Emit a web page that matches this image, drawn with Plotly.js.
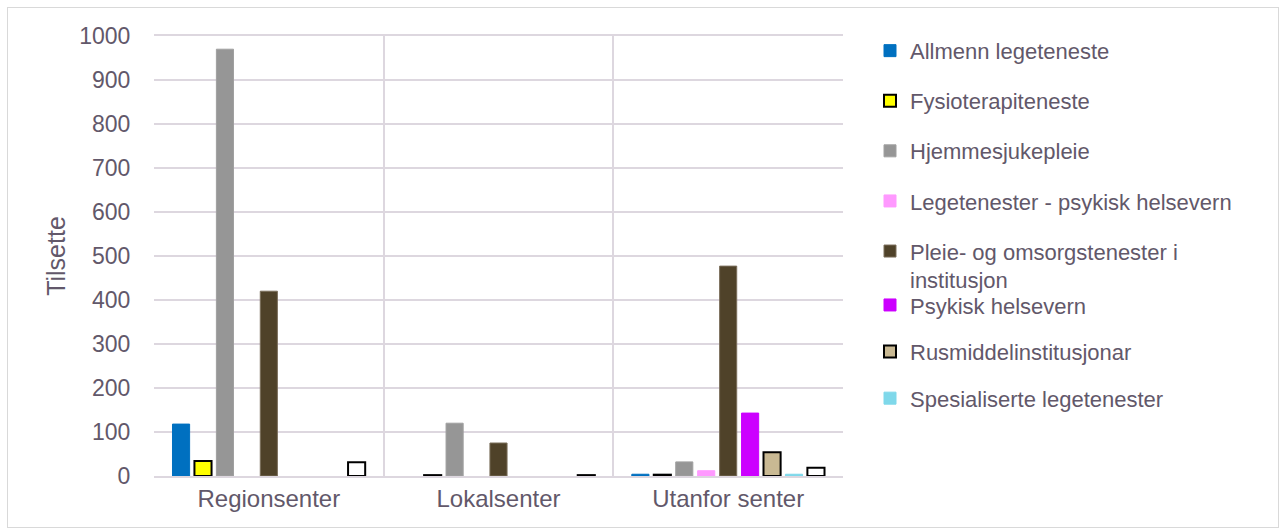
<!DOCTYPE html>
<html>
<head>
<meta charset="utf-8">
<script src="https://cdn.plot.ly/plotly-3.0.1.min.js"></script>
<style>
html,body{margin:0;padding:0;background:#fff;}
#chart{width:1283px;height:530px;}
#frame{position:absolute;left:7px;top:7px;width:1270px;height:519px;border:1px solid #d9d9d9;pointer-events:none;}
</style>
</head>
<body>
<div id="chart"></div>
<div id="frame"></div>
<script>
const categories = ["Regionsenter", "Lokalsenter", "Utanfor senter"];
const seriesNames = [
  "Allmenn legeteneste",
  "Fysioterapiteneste",
  "Hjemmesjukepleie",
  "Legetenester - psykisk helsevern",
  "Pleie- og omsorgstenester i<br>institusjon",
  "Psykisk helsevern",
  "Rusmiddelinstitusjonar",
  "Spesialiserte legetenester",
  "Annan"
];
const allmenn = [118, null, 4];
const fysio = [34, 2, 3];
const hjemme = [970, 120, 32];
const legPsyk = [null, null, 12];
const pleie = [420, 75, 477];
const psykisk = [null, null, 143];
const rus = [null, null, 54];
const spes = [null, null, 4];
const annan = [31, 2, 19];
const seriesValues = [allmenn, fysio, hjemme, legPsyk, pleie, psykisk, rus, spes, annan];

const fills = ["#0070c0", "#ffff00", "#969696", "#ff99ff", "#4f4229", "#cc00ff", "#c9b993", "#7fd8ea", "#ffffff"];
const lines = ["#0070c0", "#000000", "#a0a0a0", "#ff99ff", "#7a6e5a", "#cc00ff", "#000000", "#7fd8ea", "#000000"];
const lineW = [1, 2, 1, 1, 1, 1, 2, 1, 2];
const legendOf = ["legend", "legend", "legend", "legend", "legend", "legend2", "legend2", "legend2", "legend"];

const traces = seriesNames.map((n, i) => ({
  type: "bar",
  name: n,
  x: categories,
  y: seriesValues[i],
  marker: {color: fills[i], line: {color: lines[i], width: lineW[i]}},
  legend: legendOf[i],
  legendgroup: "g" + i,
  showlegend: i !== 8,
  hoverinfo: "x+y+name"
}));

const txt = "#62586a";
const grid = "#ddd7df";
const legX = (890 - 20 - 154) / 689;

const layout = {
  width: 1283, height: 530,
  margin: {l: 154, r: 440, t: 36, b: 54},
  paper_bgcolor: "#ffffff",
  plot_bgcolor: "#ffffff",
  font: {family: "Liberation Sans, Arial, sans-serif", size: 22, color: txt},
  barmode: "group",
  bargap: 0.14,
  bargroupgap: 0.22,
  xaxis: {
    type: "category",
    tickson: "boundaries",
    showgrid: true,
    gridcolor: grid,
    gridwidth: 2,
    showline: true,
    linecolor: grid,
    linewidth: 2,
    mirror: true,
    ticks: "outside",
    ticklen: 13,
    tickcolor: "rgba(0,0,0,0)",
    tickfont: {size: 24, color: txt},
    zeroline: false
  },
  yaxis: {
    range: [0, 1000],
    dtick: 100,
    showgrid: true,
    gridcolor: grid,
    gridwidth: 2,
    zeroline: false,
    ticks: "outside",
    ticklen: 18,
    tickcolor: "rgba(0,0,0,0)",
    tickfont: {size: 23, color: txt},
    title: {text: "Tilsette", font: {size: 25, color: txt}, standoff: 6}
  },
  legend: {
    x: legX, y: 1.014, xanchor: "left", yanchor: "top",
    font: {size: 22, color: txt},
    traceorder: "grouped",
    tracegroupgap: 18.5,
    valign: "top",
    itemwidth: 30,
    bgcolor: "rgba(0,0,0,0)"
  },
  legend2: {
    x: legX, y: 0.436, xanchor: "left", yanchor: "top",
    font: {size: 22, color: txt},
    traceorder: "grouped",
    tracegroupgap: 15,
    valign: "top",
    itemwidth: 30,
    bgcolor: "rgba(0,0,0,0)"
  }
};

Plotly.newPlot("chart", traces, layout, {displayModeBar: false, staticPlot: true});
</script>
</body>
</html>
